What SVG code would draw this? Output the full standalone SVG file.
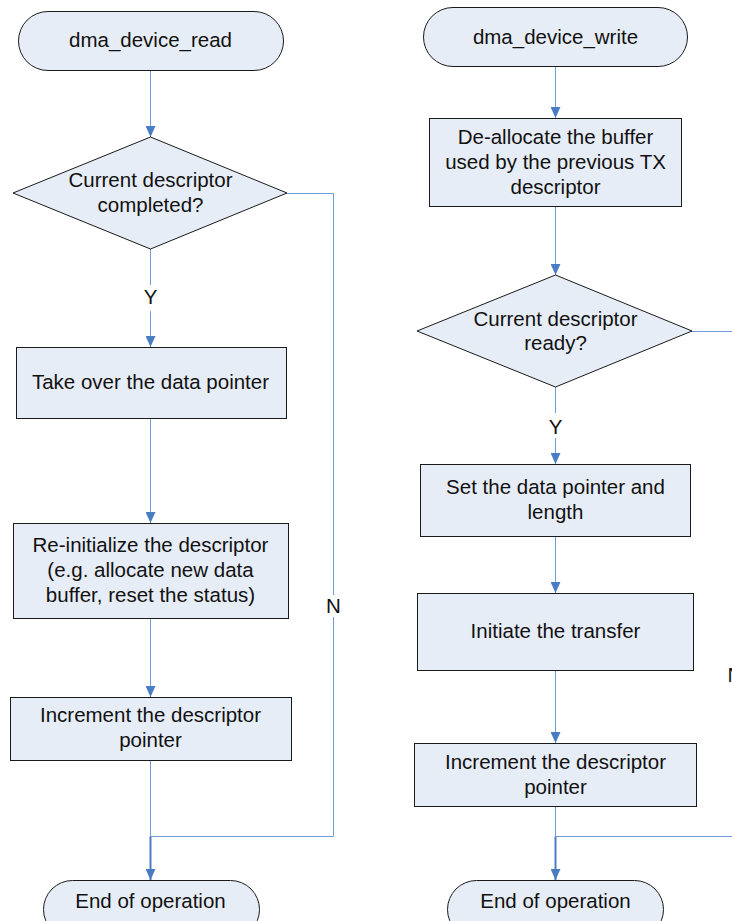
<svg xmlns="http://www.w3.org/2000/svg" width="732" height="921" viewBox="0 0 732 921">
  <style>
    .shape { fill: #E7EDF7; stroke: #1A1A1A; stroke-width: 1; }
    .lbl { font-family: "Liberation Sans", Arial, sans-serif; font-size: 20.5px; fill: #111; text-anchor: middle; }
    .conn { fill: none; stroke: #6F9BD8; stroke-width: 1; }
    .conn-bold { fill: none; stroke: #4A7CC4; stroke-width: 2; }
  </style>
  <defs>
    <marker id="arrow" viewBox="0 0 10 10" refX="10" refY="5" markerWidth="11" markerHeight="10" markerUnits="userSpaceOnUse" orient="auto" preserveAspectRatio="none">
      <path d="M0,0 L10,5 L0,10 z" fill="#4A7CC4"/>
    </marker>
  </defs>
  <rect width="732" height="921" fill="#FFFFFF"/>

  <!-- connectors -->
  <g id="connectors">
    <!-- read flow -->
    <line class="conn" x1="150.5" y1="70" x2="150.5" y2="137" marker-end="url(#arrow)"/>
    <line class="conn" x1="150.5" y1="249" x2="150.5" y2="285"/>
    <line class="conn" x1="150.5" y1="311" x2="150.5" y2="347" marker-end="url(#arrow)"/>
    <line class="conn" x1="150.5" y1="418" x2="150.5" y2="523" marker-end="url(#arrow)"/>
    <line class="conn" x1="150.5" y1="619" x2="150.5" y2="697" marker-end="url(#arrow)"/>
    <line class="conn" x1="150.5" y1="760" x2="150.5" y2="836.5"/>
    <line class="conn-bold" x1="150.5" y1="836.5" x2="150.5" y2="880" marker-end="url(#arrow)"/>
    <polyline class="conn" points="287,193.5 333.5,193.5 333.5,595"/>
    <polyline class="conn" points="333.5,617 333.5,836.5 150.5,836.5"/>
    <text class="lbl" x="150.5" y="304">Y</text>
    <text class="lbl" x="333.5" y="612.5">N</text>

    <!-- write flow -->
    <line class="conn" x1="555.5" y1="66" x2="555.5" y2="118" marker-end="url(#arrow)"/>
    <line class="conn" x1="555.5" y1="207" x2="555.5" y2="275" marker-end="url(#arrow)"/>
    <line class="conn" x1="555.5" y1="387" x2="555.5" y2="413"/>
    <line class="conn" x1="555.5" y1="438" x2="555.5" y2="464" marker-end="url(#arrow)"/>
    <line class="conn" x1="555.5" y1="537" x2="555.5" y2="593" marker-end="url(#arrow)"/>
    <line class="conn" x1="555.5" y1="670" x2="555.5" y2="743" marker-end="url(#arrow)"/>
    <line class="conn" x1="555.5" y1="807" x2="555.5" y2="836.5"/>
    <line class="conn-bold" x1="555.5" y1="836.5" x2="555.5" y2="880" marker-end="url(#arrow)"/>
    <line class="conn" x1="692" y1="331.5" x2="740" y2="331.5"/>
    <line class="conn" x1="555.5" y1="836.5" x2="740" y2="836.5"/>
    <text class="lbl" x="555.5" y="433.5">Y</text>
    <text class="lbl" x="727.5" y="682" style="text-anchor:start">N</text>
  </g>

  <!-- dma_device_read -->
  <g id="read-start">
    <rect class="shape" x="18.5" y="11.5" width="265" height="59" rx="29.5"/>
    <text class="lbl" x="150.5" y="47">dma_device_read</text>
  </g>
  <g id="read-check">
    <polygon class="shape" points="150.5,137 287,193 150.5,249 13,193"/>
    <text class="lbl" x="150.5" y="187">Current descriptor</text>
    <text class="lbl" x="150.5" y="212">completed?</text>
  </g>
  <g id="read-take">
    <rect class="shape" x="16.5" y="347.5" width="270" height="71"/>
    <text class="lbl" x="150.5" y="389">Take over the data pointer</text>
  </g>
  <g id="read-reinit">
    <rect class="shape" x="13.5" y="523.5" width="275" height="95"/>
    <text class="lbl" x="150.5" y="552">Re-initialize the descriptor</text>
    <text class="lbl" x="150.5" y="577">(e.g. allocate new data</text>
    <text class="lbl" x="150.5" y="602">buffer, reset the status)</text>
  </g>
  <g id="read-increment">
    <rect class="shape" x="10.5" y="697.5" width="281" height="63"/>
    <text class="lbl" x="150.5" y="722">Increment the descriptor</text>
    <text class="lbl" x="150.5" y="747">pointer</text>
  </g>
  <g id="read-end">
    <rect class="shape" x="43.5" y="880.5" width="216" height="58" rx="29"/>
    <text class="lbl" x="150.5" y="908">End of operation</text>
  </g>

  <!-- dma_device_write -->
  <g id="write-start">
    <rect class="shape" x="423.5" y="7.5" width="264" height="59" rx="29.5"/>
    <text class="lbl" x="555.5" y="43.5">dma_device_write</text>
  </g>
  <g id="write-dealloc">
    <rect class="shape" x="429.5" y="118.5" width="252" height="88"/>
    <text class="lbl" x="555.5" y="143.5">De-allocate the buffer</text>
    <text class="lbl" x="555.5" y="168.5">used by the previous TX</text>
    <text class="lbl" x="555.5" y="193.5">descriptor</text>
  </g>
  <g id="write-check">
    <polygon class="shape" points="555.5,275 692,331 555.5,387 417,331"/>
    <text class="lbl" x="555.5" y="326">Current descriptor</text>
    <text class="lbl" x="555.5" y="350">ready?</text>
  </g>
  <g id="write-set">
    <rect class="shape" x="420.5" y="464.5" width="270" height="72"/>
    <text class="lbl" x="555.5" y="493.5">Set the data pointer and</text>
    <text class="lbl" x="555.5" y="518.5">length</text>
  </g>
  <g id="write-initiate">
    <rect class="shape" x="417.5" y="593.5" width="276" height="77"/>
    <text class="lbl" x="555.5" y="637.5">Initiate the transfer</text>
  </g>
  <g id="write-increment">
    <rect class="shape" x="414.5" y="743.5" width="282" height="63"/>
    <text class="lbl" x="555.5" y="768.5">Increment the descriptor</text>
    <text class="lbl" x="555.5" y="793.5">pointer</text>
  </g>
  <g id="write-end">
    <rect class="shape" x="447.5" y="880.5" width="216" height="58" rx="29"/>
    <text class="lbl" x="555.5" y="908">End of operation</text>
  </g>
</svg>
